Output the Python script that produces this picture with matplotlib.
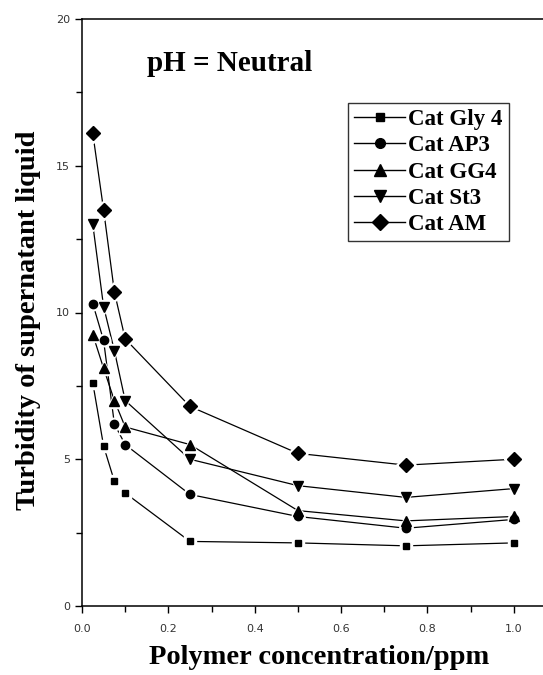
import matplotlib
matplotlib.use("Agg")
import matplotlib.pyplot as plt
from matplotlib.ticker import MultipleLocator

# концентрация полимера, ppm
conc = [0.025, 0.05, 0.075, 0.1, 0.25, 0.5, 0.75, 1.0]

# мутность надосадочной жидкости для каждого флокулянта
gly4 = [7.6, 5.45, 4.25, 3.85, 2.2, 2.15, 2.05, 2.15]
ap3 = [10.3, 9.05, 6.2, 5.5, 3.8, 3.05, 2.65, 2.95]
gg4 = [9.25, 8.1, 7.0, 6.1, 5.5, 3.25, 2.9, 3.05]
st3 = [13.0, 10.2, 8.7, 7.0, 5.0, 4.1, 3.7, 4.0]
am = [16.1, 13.5, 10.7, 9.1, 6.8, 5.2, 4.8, 5.0]

names = ["Cat Gly 4", "Cat AP3", "Cat GG4", "Cat St3", "Cat AM"]
series = [gly4, ap3, gg4, st3, am]
markers = ["s", "o", "^", "v", "D"]
sizes = [5, 6, 7, 7, 7]

serif = ["Liberation Serif", "DejaVu Serif"]

fig = plt.figure(figsize=(5.43, 6.75), dpi=100)
ax = fig.add_axes([82 / 543, 69 / 675, 475 / 543, 587 / 675])

# сначала линии, потом белая подложка под маркеры (разрывы как в Origin), потом маркеры
for ys in series:
    ax.plot(conc, ys, "-", color="black", lw=0.9, zorder=2)
for ys, m, ms in zip(series, markers, sizes):
    ax.plot(conc, ys, ls="none", marker=m, ms=ms + 3, color="white", zorder=3)
for name, ys, m, ms in zip(names, series, markers, sizes):
    ax.plot(conc, ys, ls="none", marker=m, ms=ms, color="black", zorder=4)
    ax.plot([], [], "-", marker=m, ms=ms + 1, color="black", lw=1.0, label=name)

ax.set_xlim(0, 1.1)
ax.set_ylim(0, 20)
ax.xaxis.set_major_locator(MultipleLocator(0.2))
ax.xaxis.set_minor_locator(MultipleLocator(0.1))
ax.yaxis.set_major_locator(MultipleLocator(5))
ax.yaxis.set_minor_locator(MultipleLocator(2.5))
ax.xaxis.set_major_formatter(plt.FuncFormatter(lambda v, p: f"{v:.1f}"))
ax.tick_params(which="both", direction="out", width=1, colors="black",
               labelcolor="#333333", labelsize=8)
ax.tick_params(which="major", length=5)
ax.tick_params(which="minor", length=4)
ax.tick_params(axis="x", pad=8)
ax.spines["right"].set_visible(False)
for s in ["left", "bottom", "top"]:
    ax.spines[s].set_linewidth(1.1)

ax.set_xlabel("Polymer concentration/ppm", family=serif, fontsize=20.5,
              fontweight="bold", labelpad=8)
ax.set_ylabel("Turbidity of supernatant liquid", family=serif, fontsize=20.5,
              fontweight="bold", va="center")
ax.yaxis.set_label_coords(-0.113, 0.487)

ax.text(0.15, 18.5, "pH = Neutral", family=serif, fontsize=21,
        fontweight="bold", va="center")

leg = ax.legend(loc="upper left", bbox_to_anchor=(0.56, 0.857),
                prop={"family": serif, "size": 16.5, "weight": "bold"},
                frameon=True, fancybox=False, edgecolor="black",
                handlelength=2.2, handletextpad=0.15, labelspacing=0.22,
                borderpad=0.28, borderaxespad=0)
leg.get_frame().set_linewidth(1.0)

fig.savefig("out.png", dpi=100)
